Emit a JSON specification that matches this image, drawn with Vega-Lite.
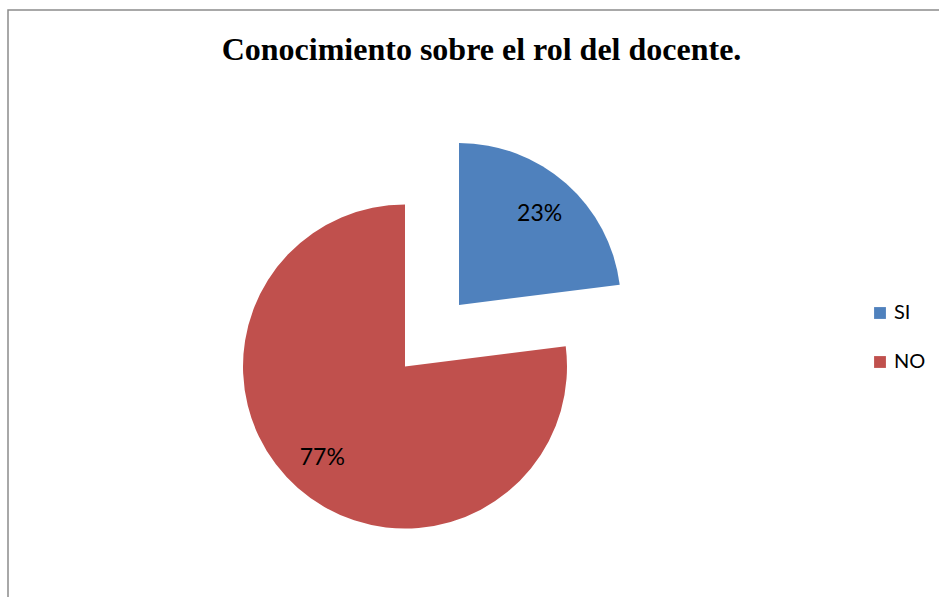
{
  "$schema": "https://vega.github.io/schema/vega-lite/v6.json",
  "autosize": "none",
  "width": 931,
  "height": 587,
  "padding": {"left": 8, "top": 10, "right": 0, "bottom": 0},
  "background": "white",
  "config": {
    "view": {"stroke": null}
  },
  "title": {
    "text": "Conocimiento sobre el rol del docente.",
    "font": "Liberation Serif",
    "fontSize": 32,
    "fontWeight": "bold",
    "color": "black",
    "anchor": "middle",
    "frame": "group",
    "baseline": "alphabetic",
    "offset": -83,
    "dx": 8
  },
  "data": {
    "values": [
      {"categoria": "SI", "valor": 0.23},
      {"categoria": "NO", "valor": 0.77}
    ]
  },
  "layer": [
    {
      "transform": [{"aggregate": [{"op": "count", "as": "n"}]}],
      "mark": {"type": "rect", "fill": null, "stroke": "#8c8c8c", "strokeWidth": 1.5, "strokeDash": [931, 1518, 587, 1]},
      "encoding": {}
    },
    {
      "mark": {"type": "arc", "outerRadius": 162, "xOffset": -68.5, "yOffset": 63},
      "encoding": {
        "theta": {"field": "valor", "type": "quantitative", "stack": true},
        "order": {"field": "categoria", "sort": "descending"},
        "color": {
          "field": "categoria",
          "type": "nominal",
          "scale": {"domain": ["SI", "NO"], "range": ["#4F81BD", "#C0504D"]},
          "legend": {
            "orient": "none",
            "legendX": 862,
            "legendY": 293,
            "title": null,
            "symbolType": "square",
            "symbolSize": 140,
            "symbolStrokeWidth": 0,
            "symbolOpacity": 1,
            "labelFont": "Lato",
            "labelFontSize": 20,
            "labelColor": "black",
            "labelOffset": 4,
            "rowPadding": 29,
            "padding": 0
          }
        },
        "opacity": {"condition": {"test": "datum.categoria === 'NO'", "value": 1}, "value": 0}
      }
    },
    {
      "mark": {"type": "arc", "outerRadius": 162, "xOffset": -14.5, "yOffset": 1.5},
      "encoding": {
        "theta": {"field": "valor", "type": "quantitative", "stack": true},
        "order": {"field": "categoria", "sort": "descending"},
        "color": {"field": "categoria", "type": "nominal", "legend": null},
        "opacity": {"condition": {"test": "datum.categoria === 'SI'", "value": 1}, "value": 0}
      }
    },
    {
      "mark": {"type": "text", "radius": 122, "xOffset": -70.5, "yOffset": 63, "font": "Lato", "fontSize": 23, "color": "black"},
      "encoding": {
        "theta": {"field": "valor", "type": "quantitative", "stack": true},
        "order": {"field": "categoria", "sort": "descending"},
        "text": {"field": "valor", "type": "quantitative", "format": ".0%"},
        "opacity": {"condition": {"test": "datum.categoria === 'NO'", "value": 1}, "value": 0}
      }
    },
    {
      "mark": {"type": "text", "radius": 122, "xOffset": -14.5, "yOffset": 2.5, "font": "Lato", "fontSize": 23, "color": "black"},
      "encoding": {
        "theta": {"field": "valor", "type": "quantitative", "stack": true},
        "order": {"field": "categoria", "sort": "descending"},
        "text": {"field": "valor", "type": "quantitative", "format": ".0%"},
        "opacity": {"condition": {"test": "datum.categoria === 'SI'", "value": 1}, "value": 0}
      }
    }
  ]
}
